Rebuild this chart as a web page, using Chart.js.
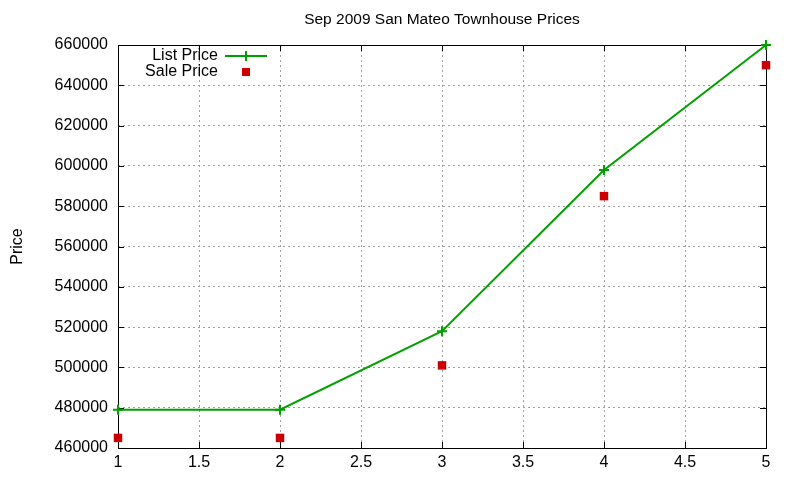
<!DOCTYPE html>
<html>
<head>
<meta charset="utf-8">
<script src="https://cdn.jsdelivr.net/npm/chart.js@4/dist/chart.umd.min.js"></script>
<style>
  html, body { margin: 0; padding: 0; background: #fff; }
  #wrap { width: 800px; height: 480px; }
</style>
</head>
<body>
<div id="wrap"><canvas id="chart" width="800" height="480"></canvas></div>
<script>
// data
const xValues = [1, 2, 3, 4, 5];
const listPrice = [479000, 479000, 518000, 598000, 660000];
const salePrice = [465000, 465000, 501000, 585000, 650000];
const xTicks = [1, 1.5, 2, 2.5, 3, 3.5, 4, 4.5, 5];
const yTicks = [460000, 480000, 500000, 520000, 540000, 560000, 580000, 600000, 620000, 640000, 660000];
const titleText = 'Sep 2009 San Mateo Townhouse Prices';

const green = '#00a000';
const red = '#cc0000';
const font = "'Liberation Sans', Arial, sans-serif";

function toPoints(ys) {
    return xValues.map((x, i) => ({ x: x, y: ys[i] }));
}

// gnuplot-like frame: full box, inward ticks on all sides, title over the plot, legend inside top-left
const framePlugin = {
    id: 'frame',
    beforeDatasetsDraw(chart) {
        const ctx = chart.ctx;
        const a = chart.chartArea;
        const xs = chart.scales.x, ys = chart.scales.y;
        ctx.save();
        ctx.strokeStyle = '#000';
        ctx.lineWidth = 1;
        ctx.beginPath();
        xTicks.forEach(v => {
            const px = Math.round(xs.getPixelForValue(v)) + 0.5;
            ctx.moveTo(px, a.bottom); ctx.lineTo(px, a.bottom - 6);
            ctx.moveTo(px, a.top); ctx.lineTo(px, a.top + 6);
        });
        yTicks.forEach(v => {
            const py = Math.round(ys.getPixelForValue(v)) + 0.5;
            ctx.moveTo(a.left, py); ctx.lineTo(a.left + 6, py);
            ctx.moveTo(a.right, py); ctx.lineTo(a.right - 6, py);
        });
        ctx.stroke();
        ctx.strokeRect(Math.round(a.left) + 0.5, Math.round(a.top) + 0.5,
            Math.round(a.right - a.left), Math.round(a.bottom - a.top));
        ctx.restore();
    },
    afterDatasetsDraw(chart) {
        const ctx = chart.ctx;
        const a = chart.chartArea;
        ctx.save();
        ctx.font = '15.5px ' + font;
        ctx.fillStyle = '#000';
        ctx.textAlign = 'center';
        ctx.textBaseline = 'middle';
        ctx.fillText(titleText, (a.left + a.right) / 2, 20);

        // legend
        const ds = chart.data.datasets;
        ctx.font = '16px ' + font;
        ctx.textAlign = 'right';
        ctx.fillText(ds[0].label, 218, 56);
        ctx.fillText(ds[1].label, 218, 72);
        ctx.strokeStyle = green;
        ctx.lineWidth = 2;
        ctx.beginPath();
        ctx.moveTo(225, 56); ctx.lineTo(267, 56);
        ctx.moveTo(246, 51); ctx.lineTo(246, 61);
        ctx.stroke();
        ctx.fillStyle = red;
        ctx.fillRect(242, 68, 8, 8);
        ctx.restore();
    }
};

new Chart(document.getElementById('chart'), {
    type: 'scatter',
    data: {
        datasets: [
            {
                label: 'List Price',
                data: toPoints(listPrice),
                showLine: true,
                clip: false,
                borderColor: green,
                backgroundColor: green,
                borderWidth: 2,
                pointStyle: 'cross',
                pointRadius: 5,
                pointBorderWidth: 2,
                tension: 0
            },
            {
                label: 'Sale Price',
                data: toPoints(salePrice),
                showLine: false,
                clip: false,
                borderColor: red,
                backgroundColor: red,
                pointStyle: 'rect',
                pointRadius: 6,
                pointBorderWidth: 0
            }
        ]
    },
    options: {
        responsive: false,
        animation: false,
        layout: { padding: { left: 0, right: 34, top: 45, bottom: 0 } },
        plugins: {
            legend: { display: false },
            tooltip: { enabled: false },
            title: { display: false }
        },
        scales: {
            x: {
                type: 'linear',
                min: 1,
                max: 5,
                afterBuildTicks: s => { s.ticks = xTicks.map(v => ({ value: v })); },
                afterFit: s => { s.height = 32; },
                grid: { color: '#a0a0a0', lineWidth: 1, drawTicks: false },
                border: { display: false, dash: [2, 3] },
                ticks: {
                    color: '#000',
                    font: { family: font, size: 16 },
                    padding: 5,
                    maxRotation: 0,
                    callback: v => String(v)
                }
            },
            y: {
                min: 460000,
                max: 660000,
                afterBuildTicks: s => { s.ticks = yTicks.map(v => ({ value: v })); },
                afterFit: s => { s.width = 118; },
                grid: { color: '#a0a0a0', lineWidth: 1, drawTicks: false },
                border: { display: false, dash: [2, 3] },
                title: {
                    display: true,
                    text: 'Price',
                    color: '#000',
                    font: { family: font, size: 16 },
                    padding: { top: 8, bottom: 0 }
                },
                ticks: {
                    color: '#000',
                    font: { family: font, size: 16 },
                    padding: 10,
                    callback: v => String(v)
                }
            }
        }
    },
    plugins: [framePlugin]
});
</script>
</body>
</html>
